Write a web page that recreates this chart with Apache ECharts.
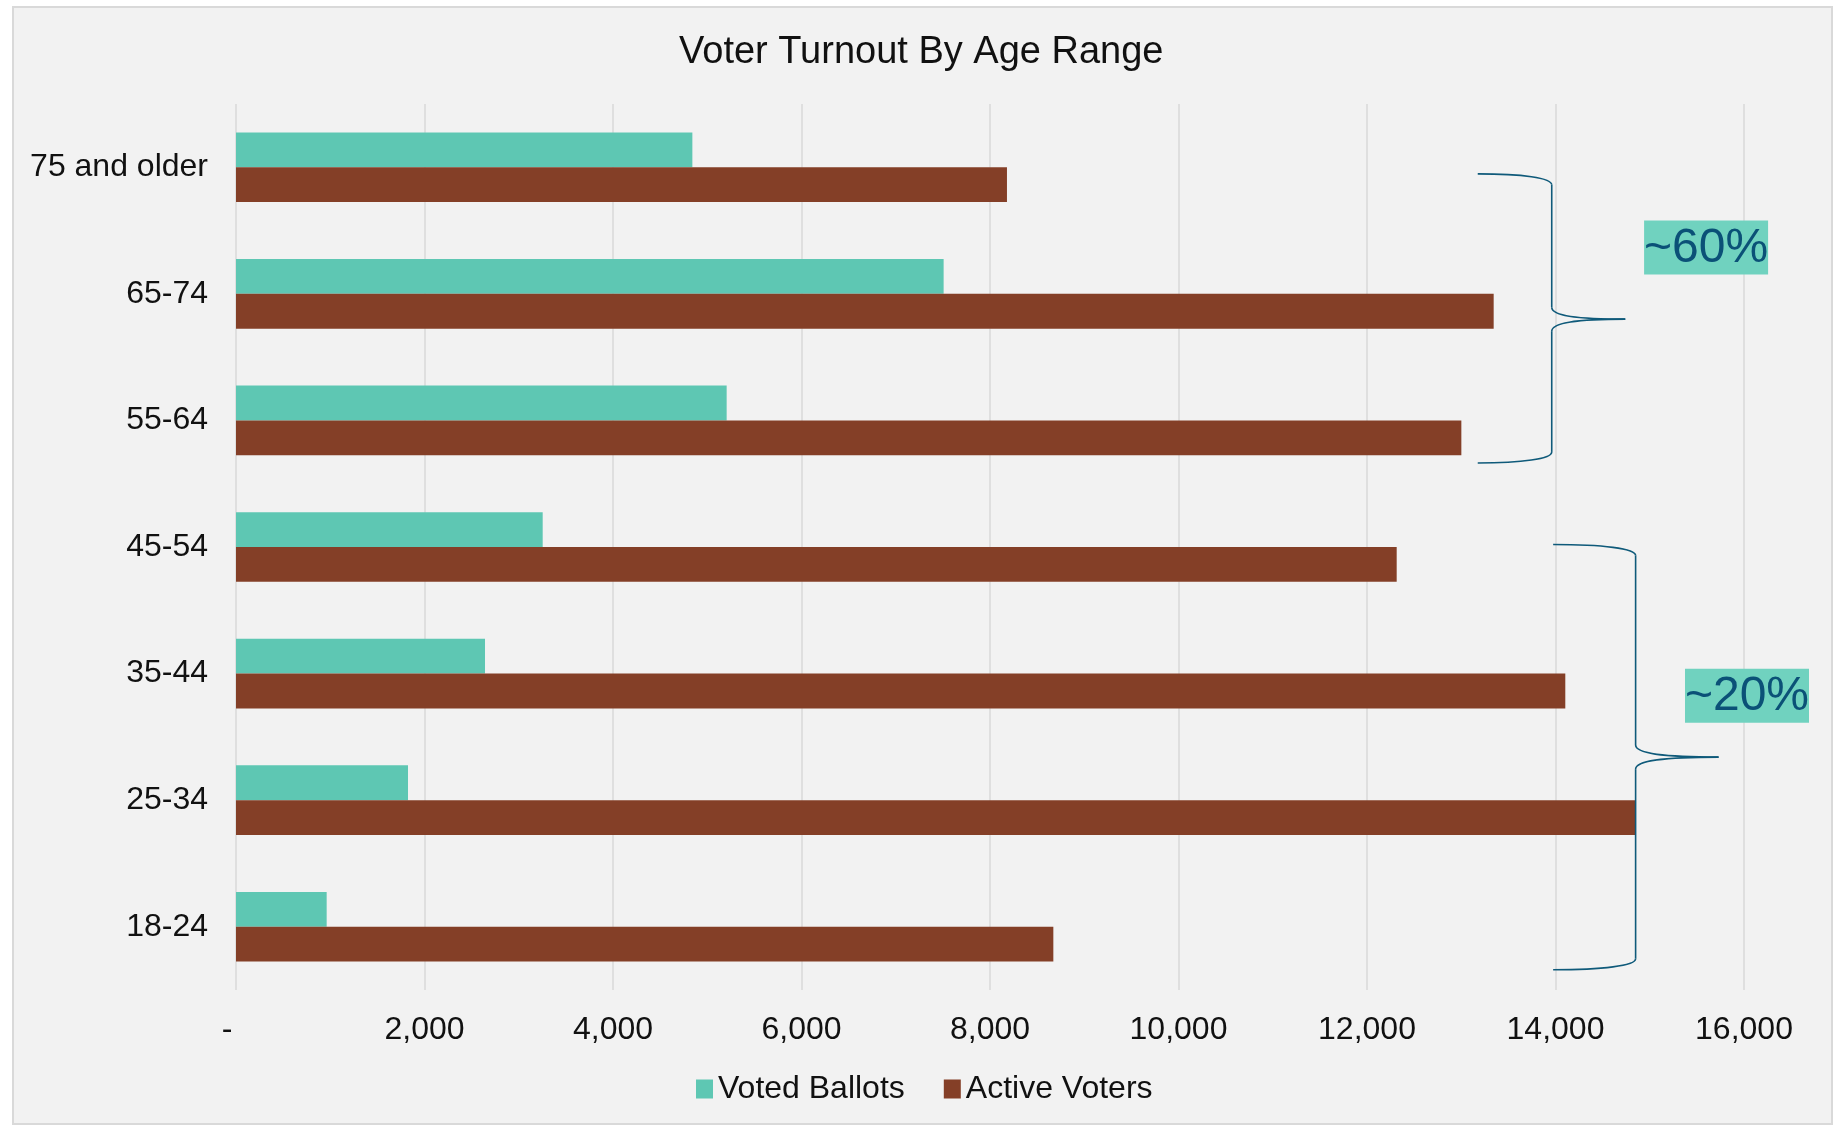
<!DOCTYPE html>
<html><head><meta charset="utf-8">
<script src="https://cdn.jsdelivr.net/npm/echarts@6/dist/echarts.min.js"></script>
<style>
html,body{margin:0;padding:0;background:#fff;}
#panel{position:absolute;left:12px;top:6px;width:1821px;height:1119px;background:#f2f2f2;border:2px solid #d9d9d9;box-sizing:border-box;}
#c{position:absolute;left:0;top:0;width:1835px;height:1125px;}
</style>
</head><body><div id="panel"></div><div id="c"></div>
<script>
// ---- data ----
const categories = ['18-24', '25-34', '35-44', '45-54', '55-64', '65-74', '75 and older'];
const votedBallots = [962, 1825, 2642, 3254, 5206, 7508, 4842];
const activeVoters = [8672, 14847, 14104, 12315, 13001, 13344, 8180];
const xMin = 0, xMax = 16000, xInterval = 2000;
const titleText = 'Voter Turnout By Age Range';
const seriesNames = ['Voted Ballots', 'Active Voters'];
// annotation braces (x in data units, y in category-index units)
const braces = [
  { label: '~60%', xEnd: 13175, xMid: 13960, xTip: 14740, yTop: 5.948, yTip: 4.80, yBottom: 3.664, labelX: 14940, labelY: 5.366 },
  { label: '~20%', xEnd: 13975, xMid: 14850, xTip: 15730, yTop: 3.02, yTip: 1.34, yBottom: -0.34, labelX: 15374, labelY: 1.824 }
];

const FONT = "'Liberation Sans', Arial, sans-serif";
const chart = echarts.init(document.getElementById('c'), null, { renderer: 'canvas' });

chart.setOption({
  backgroundColor: 'transparent',
  animation: false,
  title: {
    text: titleText, left: 679, top: 34, padding: 0,
    textStyle: { fontFamily: FONT, fontSize: 38, fontWeight: 'normal', color: '#111' }
  },
  legend: {
    data: seriesNames, bottom: 20, left: 696, padding: 0,
    itemWidth: 17, itemHeight: 19, itemGap: 39, icon: 'rect',
    textStyle: { fontFamily: FONT, fontSize: 32, color: '#111' }
  },
  grid: { left: 236, right: 91, top: 104, bottom: 135, containLabel: false },
  xAxis: {
    type: 'value', min: xMin, max: xMax, interval: xInterval,
    axisLine: { show: false }, axisTick: { show: false },
    splitLine: { show: true, lineStyle: { color: '#d9d9d9', width: 1.5 } },
    axisLabel: {
      fontFamily: FONT, fontSize: 32, color: '#111', margin: 24,
      formatter: v => v === 0 ? '-  ' : v.toLocaleString('en-US')
    }
  },
  yAxis: {
    type: 'category', data: categories,
    axisLine: { show: false }, axisTick: { show: false },
    axisLabel: { fontFamily: FONT, fontSize: 32, color: '#111', margin: 28, padding: [4, 0, 0, 0] }
  },
  series: [
    { name: seriesNames[0], type: 'bar', data: votedBallots, barGap: '0%', barCategoryGap: '45%',
      itemStyle: { color: '#5ec7b3' } },
    { name: seriesNames[1], type: 'bar', data: activeVoters, barGap: '0%', barCategoryGap: '45%',
      itemStyle: { color: '#843f27' } }
  ]
});

function px(v) { return chart.convertToPixel({ xAxisIndex: 0 }, v); }
const y0 = chart.convertToPixel({ yAxisIndex: 0 }, categories[0]);
const y1 = chart.convertToPixel({ yAxisIndex: 0 }, categories[1]);
function py(i) { return y0 + (y1 - y0) * i; }

const STROKE = { stroke: '#0f5a7a', lineWidth: 1.6, fill: null };
function curve(x1, y1_, cx1, cy1, cx2, cy2, x2, y2) {
  return { type: 'bezierCurve', shape: { x1: x1, y1: y1_, cpx1: cx1, cpy1: cy1, cpx2: cx2, cpy2: cy2, x2: x2, y2: y2 }, style: STROKE, z: 10, silent: true };
}
function line(x1, y1_, x2, y2) {
  return { type: 'line', shape: { x1: x1, y1: y1_, x2: x2, y2: y2 }, style: STROKE, z: 10, silent: true };
}

const elements = [];
braces.forEach(b => {
  const ex = px(b.xEnd), mx = px(b.xMid), tx = px(b.xTip);
  const yt = py(b.yTop), yp = py(b.yTip), yb = py(b.yBottom);
  const r = 11, rt = 12;
  elements.push(curve(ex, yt, ex + (mx - ex) * 0.6, yt, mx, yt + 4, mx, yt + r));
  elements.push(line(mx, yt + r, mx, yp - rt));
  elements.push(curve(mx, yp - rt, mx, yp - 4, mx + (tx - mx) * 0.3, yp, tx, yp));
  elements.push(curve(tx, yp, mx + (tx - mx) * 0.3, yp, mx, yp + 4, mx, yp + rt));
  elements.push(line(mx, yp + rt, mx, yb - r));
  elements.push(curve(mx, yb - r, mx, yb - 4, ex + (mx - ex) * 0.6, yb, ex, yb));
  const lx = px(b.labelX), ly = py(b.labelY);
  elements.push({ type: 'rect', shape: { x: lx, y: ly - 27, width: 124, height: 54 }, style: { fill: '#70d2bf' }, z: 10, silent: true });
  elements.push({ type: 'text', x: lx + 62, y: ly + 1, style: { text: b.label, font: "48px 'Liberation Sans', Arial, sans-serif", fill: '#0b5177', align: 'center', verticalAlign: 'middle' }, z: 11, silent: true });
});
chart.setOption({ graphic: { elements: elements } });
</script>
</body></html>
